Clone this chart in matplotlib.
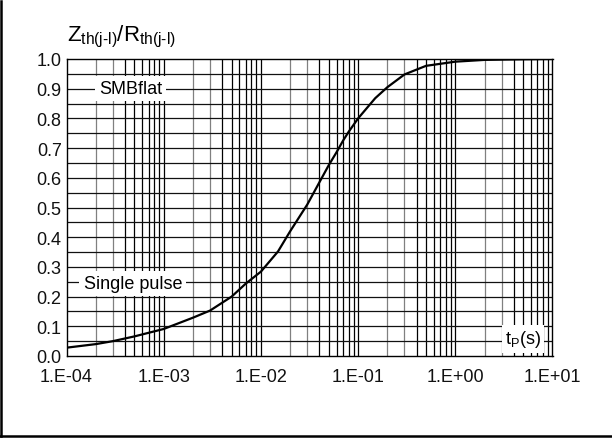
import matplotlib
matplotlib.use("Agg")
import matplotlib.pyplot as plt
import numpy as np
from matplotlib.lines import Line2D

plt.rcParams['font.family'] = ['Liberation Sans', 'DejaVu Sans']
plt.rcParams['mathtext.fontset'] = 'custom'
plt.rcParams['mathtext.rm'] = 'Liberation Sans'
plt.rcParams['mathtext.it'] = 'Liberation Sans'
plt.rcParams['mathtext.default'] = 'regular'

# data
t_p = [1e-4, 2e-4, 3e-4, 5e-4, 1e-3, 2e-3, 3e-3, 5e-3, 7e-3, 1e-2, 1.5e-2, 2e-2,
       3e-2, 4e-2, 5e-2, 6e-2, 7e-2, 8e-2, 1e-1, 1.5e-1, 2e-1, 3e-1, 5e-1, 1e0,
       2e0, 5e0, 1e1]
z_ratio = [0.028, 0.040, 0.050, 0.066, 0.091, 0.129, 0.153, 0.200, 0.244, 0.284,
           0.352, 0.420, 0.510, 0.585, 0.643, 0.686, 0.725, 0.755, 0.800, 0.868,
           0.905, 0.948, 0.977, 0.991, 0.997, 0.999, 1.0]
x_ticks = [1e-4, 1e-3, 1e-2, 1e-1, 1e0, 1e1]
x_tick_labels = ["1.E-04", "1.E-03", "1.E-02", "1.E-01", "1.E+00", "1.E+01"]
y_ticks = [0.0, 0.1, 0.2, 0.3, 0.4, 0.5, 0.6, 0.7, 0.8, 0.9, 1.0]
y_tick_labels = ["0.0", "0.1", "0.2", "0.3", "0.4", "0.5", "0.6", "0.7", "0.8", "0.9", "1.0"]

W, H = 612, 439
fig = plt.figure(figsize=(W / 100, H / 100), dpi=100)
L, R, T, B = 66.5, 552.5, 60, 357
ax = fig.add_axes([L / W, 1 - B / H, (R - L) / W, (B - T) / H])
ax.set_xscale('log')
ax.set_xlim(1e-4, 1e1)
ax.set_ylim(0, 1.0)

# grid
for dec in range(-4, 1):
    for m in range(1, 10):
        xv = m * 10.0 ** dec
        if xv <= 1e-4 or xv >= 1e1:
            continue
        col = '#808080' if m in (2, 3) else '#000000'
        ax.axvline(xv, color=col, lw=0.9, zorder=1)
for yv in np.arange(0.05, 1.0, 0.05):
    ax.axhline(yv, color='#111111', lw=0.9, zorder=1)

ax.plot(t_p, z_ratio, color='black', lw=1.6, zorder=3, solid_joinstyle='round')

ax.set_xticks(x_ticks)
ax.set_xticklabels(x_tick_labels)
ax.set_yticks(y_ticks)
ax.set_yticklabels(y_tick_labels)
ax.minorticks_off()
ax.tick_params(axis='both', length=0, labelsize=13, colors='#111111')
ax.tick_params(axis='x', pad=9)
ax.tick_params(axis='y', pad=3.5)
for s in ax.spines.values():
    s.set_linewidth(1.0)
    s.set_color('black')
    s.set_zorder(4)

bbox = dict(facecolor='white', edgecolor='none', pad=3)
ax.text(2.15e-4, 0.9, "SMBflat", fontsize=13, va='center', ha='left', bbox=bbox, zorder=5)
ax.text(1.5e-4, 0.245, "Single pulse", fontsize=13, va='center', ha='left', bbox=bbox, zorder=5)
ax.text(7.6, 0.058, r"$\mathregular{t_P(s)}$", fontsize=13, va='center', ha='right',
        bbox=dict(facecolor='white', edgecolor='none', pad=2.5), zorder=5)

fig.text(67 / W, 1 - 41 / H, r"$\mathregular{Z_{th(j\text{-}l)}/R_{th(j\text{-}l)}}$",
         fontsize=16, ha='left', va='baseline')

# outer border (left and bottom)
fig.add_artist(Line2D([1 / W, 1 / W], [1 - 2 / H, 1 - 437 / H], color='black', lw=1.8,
                      transform=fig.transFigure))
fig.add_artist(Line2D([0, 1], [1 - 437 / H, 1 - 437 / H], color='black', lw=1.8,
                      transform=fig.transFigure))

fig.savefig("out.png", dpi=100)
